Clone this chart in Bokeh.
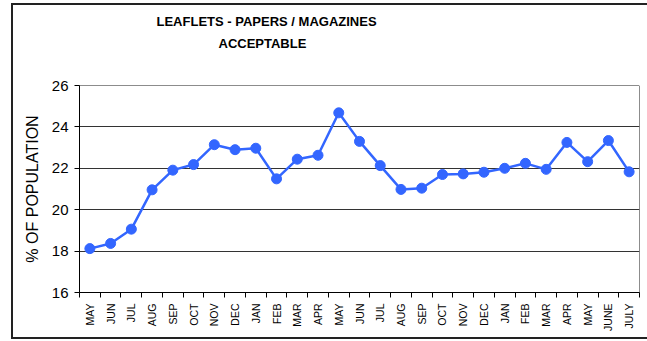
from bokeh.plotting import figure
from bokeh.models import FixedTicker, Title, LinearAxis, InlineStyleSheet
from bokeh.embed import file_html
from bokeh.resources import INLINE
import math

# Survey months (two full years plus three months)
months = ["MAY", "JUN", "JUL", "AUG", "SEP", "OCT", "NOV", "DEC", "JAN", "FEB", "MAR", "APR",
          "MAY", "JUN", "JUL", "AUG", "SEP", "OCT", "NOV", "DEC", "JAN", "FEB", "MAR", "APR",
          "MAY", "JUNE", "JULY"]
# % of population finding leaflets in papers / magazines acceptable
acceptable = [18.12, 18.37, 19.06, 20.96, 21.91, 22.18, 23.14, 22.90, 22.97, 21.49, 22.44, 22.63,
              24.68, 23.30, 22.13, 20.98, 21.04, 21.70, 21.73, 21.81, 22.00, 22.24, 21.95, 23.25,
              22.32, 23.34, 21.83]
y_ticks = [16, 18, 20, 22, 24, 26]

n = len(months)
xs = [i + 0.5 for i in range(n)]

FONT = "Liberation Sans"

# outer chart frame (open on the right, where it runs past the page edge)
frame_css = InlineStyleSheet(css="""
:host { position: relative; }
:host::after {
  content: ""; position: absolute; left: 11px; top: 3px; width: 636px; height: 336px;
  border: 2px solid #222222; border-right: none; box-sizing: border-box; pointer-events: none;
}
""")

p = figure(width=647, height=341, output_backend="svg", toolbar_location=None,
           x_range=(0, n), y_range=(16, 26),
           min_border_left=79, min_border_right=8, min_border_top=85, min_border_bottom=49,
           stylesheets=[frame_css])
p.background_fill_color = "white"
p.border_fill_color = "white"
p.outline_line_color = "#8c8c8c"
p.outline_line_width = 1

# x axis: labels centred on each month, tick marks on the boundaries
p.xaxis.ticker = FixedTicker(ticks=xs, minor_ticks=list(range(n + 1)))
p.xaxis.major_label_overrides = {x: m for x, m in zip(xs, months)}
p.xaxis.major_label_orientation = math.pi / 2
p.xaxis.major_tick_line_color = None
p.xaxis.minor_tick_out = 5
p.xaxis.minor_tick_in = 0
p.xaxis.minor_tick_line_color = "black"
p.xaxis.axis_line_color = "black"
p.xaxis.major_label_text_font = FONT
p.xaxis.major_label_text_font_size = "10.5px"
p.xaxis.major_label_text_color = "black"
p.xaxis.major_label_standoff = 5

p.yaxis.ticker = FixedTicker(ticks=y_ticks)
p.yaxis.minor_tick_line_color = None
p.yaxis.major_tick_out = 5
p.yaxis.major_tick_in = 0
p.yaxis.major_tick_line_color = "black"
p.yaxis.axis_line_color = "black"
p.yaxis.major_label_text_font = FONT
p.yaxis.major_label_text_font_size = "15px"
p.yaxis.major_label_text_color = "black"
p.yaxis.major_label_standoff = 6
p.yaxis.axis_label = "% OF POPULATION"
p.yaxis.axis_label_text_font = FONT
p.yaxis.axis_label_text_font_size = "16px"
p.yaxis.axis_label_text_font_style = "normal"
p.yaxis.axis_label_text_color = "black"
p.yaxis.axis_label_standoff = 8

p.xgrid.grid_line_color = None
p.ygrid.ticker = FixedTicker(ticks=y_ticks)
p.ygrid.grid_line_color = "#333333"
p.ygrid.grid_line_width = 1

p.line(xs, acceptable, line_color="#3366ff", line_width=2.5)
p.scatter(xs, acceptable, size=10, fill_color="#3366ff", line_color="#3366ff")

# blank band between the title block and the plot area
gap = LinearAxis(ticker=FixedTicker(ticks=[n]), major_tick_out=34, major_tick_in=0,
                 axis_line_color=None, major_tick_line_color="white",
                 minor_tick_line_color=None, major_label_text_font_size="0px",
                 major_label_standoff=0, major_label_overrides={n: ""})
p.add_layout(gap, "above")

# two-line title (bottom line first so it sits nearest the plot)
p.add_layout(Title(text="ACCEPTABLE", align="left", offset=139,
                   text_font=FONT, text_font_size="13px", text_font_style="bold",
                   text_color="black", standoff=2), "above")
p.add_layout(Title(text="LEAFLETS - PAPERS / MAGAZINES", align="left", offset=77,
                   text_font=FONT, text_font_size="13px", text_font_style="bold",
                   text_color="black", standoff=8), "above")

open("out.html", "w").write(file_html(p, INLINE))
